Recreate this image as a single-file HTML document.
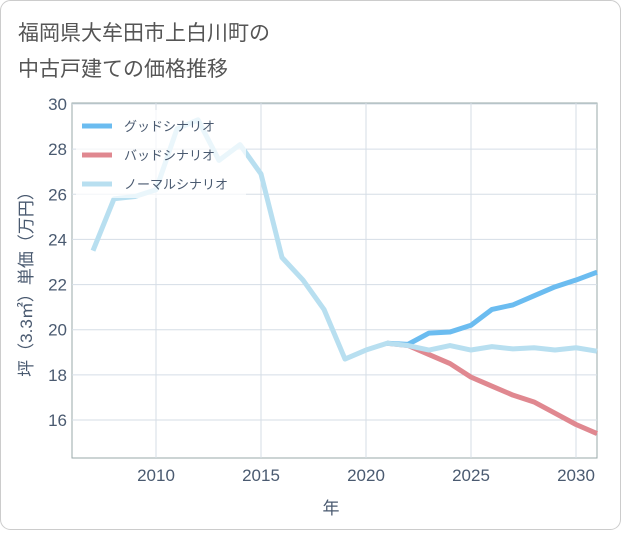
<!DOCTYPE html>
<html><head><meta charset="utf-8"><style>
body{margin:0;background:#fff;}
#wrap{position:relative;width:621px;height:530px;font-family:"Liberation Sans","Noto Sans CJK JP",sans-serif;}
</style></head><body>
<div id="wrap">
<svg id="chart" width="621" height="530" xmlns="http://www.w3.org/2000/svg">
<rect x="0.5" y="0.5" width="620" height="529" rx="10" fill="#fff" stroke="#ccc"/>
<text x="18" y="40" font-size="21" fill="#555" font-family="Liberation Sans, Noto Sans CJK JP, sans-serif">福岡県大牟田市上白川町の</text>
<text x="18" y="76" font-size="21" fill="#555" font-family="Liberation Sans, Noto Sans CJK JP, sans-serif">中古戸建ての価格推移</text>
<g id="grid"></g><g id="series"></g><g id="axes"></g>
<text x="331" y="514" font-size="17" fill="#4a5a70" text-anchor="middle" font-family="Liberation Sans, Noto Sans CJK JP, sans-serif">年</text>
<text transform="translate(32,280) rotate(-90)" font-size="17" fill="#4a5a70" text-anchor="middle" font-family="Liberation Sans, Noto Sans CJK JP, sans-serif">坪（3.3㎡）単価（万円）</text>
<g id="legend"></g>
</svg>
</div>
<script>
const years=[2007,2008,2009,2010,2011,2012,2013,2014,2015,2016,2017,2018,2019,2020,2021,2022,2023,2024,2025,2026,2027,2028,2029,2030,2031];
const normalVals=[23.5,25.8,25.9,26.2,28.9,29.3,27.5,28.2,26.9,23.2,22.2,20.9,18.7,19.1,19.4,19.3,19.1,19.3,19.1,19.25,19.15,19.2,19.1,19.2,19.05];
const futureYears=[2021,2022,2023,2024,2025,2026,2027,2028,2029,2030,2031];
const goodVals=[19.4,19.35,19.85,19.9,20.2,20.9,21.1,21.5,21.9,22.2,22.55];
const badVals=[19.4,19.3,18.9,18.5,17.9,17.5,17.1,16.8,16.3,15.8,15.4];
const xTicks=[2010,2015,2020,2025,2030];
const yTicks=[16,18,20,22,24,26,28,30];
const seriesNames=["グッドシナリオ","バッドシナリオ","ノーマルシナリオ"];
const L=72,R=597,T=103,B=458;
const X=v=>156+(v-2010)*21;
const Y=v=>104+(30-v)*(420-104)/14;
const NS="http://www.w3.org/2000/svg";
function mk(tag,attrs,parent){const e=document.createElementNS(NS,tag);for(const k in attrs)e.setAttribute(k,attrs[k]);parent.appendChild(e);return e;}
const grid=document.getElementById('grid'),axes=document.getElementById('axes'),ser=document.getElementById('series'),leg=document.getElementById('legend');
const bg=mk('rect',{x:L,y:T,width:R-L,height:B-T,fill:'#fff',stroke:'#9aa'},grid);


xTicks.forEach(t=>{
 const l=mk('line',{x1:X(t),x2:X(t),y1:T,y2:B,stroke:'#d5dde6'},grid);
 
 
 const tx=mk('text',{x:X(t),y:481,'font-size':17,fill:'#4a5a70','text-anchor':'middle'},axes);
 tx.textContent=t;
 
 
});
yTicks.forEach(t=>{
 const l=mk('line',{x1:L,x2:R,y1:Y(t),y2:Y(t),stroke:'#d5dde6'},grid);
 
 
 const tx=mk('text',{x:67,y:Y(t)+6,'font-size':17,fill:'#4a5a70','text-anchor':'end'},axes);
 tx.textContent=t;
 
 
});
function line(xs,vs,color,name){
 const p=mk('polyline',{points:xs.map((x,i)=>X(x)+','+Y(vs[i])).join(' '),fill:'none',stroke:color,'stroke-width':5,'stroke-linejoin':'round'},ser);
 
 
}
line(futureYears,badVals,'#e08890','bad-scenario-line');
line(futureYears,goodVals,'#6bbcf0','good-scenario-line');
line(years,normalVals,'#b8dff0','normal-scenario-line');
const lbg=mk('rect',{x:76,y:110,width:170,height:88,fill:'#fff','fill-opacity':0.7},leg);


const colors=['#6bbcf0','#e08890','#b8dff0'];
seriesNames.forEach((n,i)=>{
 const y=126+i*29;
 const l=mk('line',{x1:82,x2:112,y1:y,y2:y,stroke:colors[i],'stroke-width':5},leg);
 
 
 const t=mk('text',{x:124,y:y+5,'font-size':13,fill:'#4a5a70'},leg);
 t.textContent=n;
 
 
});
</script>
</body></html>
